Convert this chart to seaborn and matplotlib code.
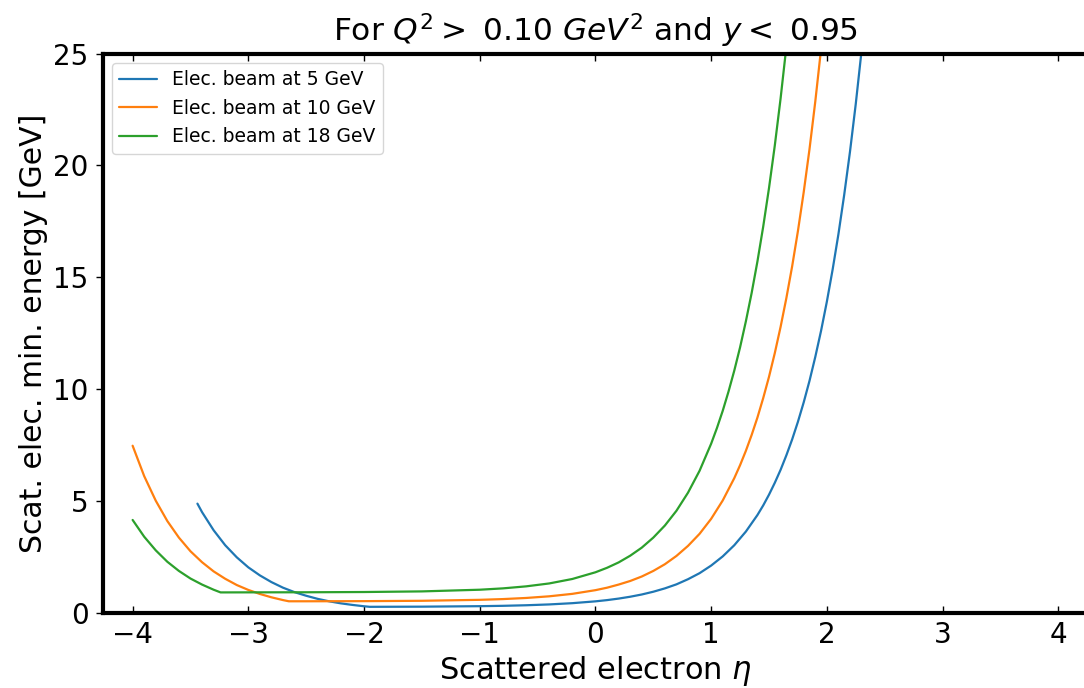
import matplotlib
matplotlib.use("Agg")
import matplotlib.pyplot as plt
import pandas as pd
import seaborn as sns

# Minimum scattered-electron energy vs. pseudorapidity for three beam energies
beam_energies = [5, 10, 18]
series_labels = ["Elec. beam at 5 GeV", "Elec. beam at 10 GeV", "Elec. beam at 18 GeV"]

eta_5 = [-3.44, -3.4, -3.3, -3.2, -3.1, -3.0, -2.9, -2.8, -2.7, -2.6, -2.5, -2.4,
         -2.3, -2.2, -2.1, -2.0, -1.95, -1.9, -1.5, -1.0, -0.8, -0.6, -0.4, -0.2,
         0.0, 0.1, 0.2, 0.3, 0.4, 0.5, 0.6, 0.7, 0.8, 0.9, 1.0, 1.1, 1.2, 1.3,
         1.4, 1.45, 1.5, 1.55, 1.6, 1.65, 1.7, 1.75, 1.8, 1.85, 1.9, 1.95, 2.0,
         2.05, 2.1, 2.15, 2.2, 2.25, 2.3, 2.35]
emin_5 = [4.87, 4.49, 3.68, 3.01, 2.47, 2.02, 1.66, 1.36, 1.11, 0.91, 0.75, 0.61,
          0.50, 0.41, 0.34, 0.28, 0.255, 0.256, 0.262, 0.284, 0.30, 0.325, 0.362, 0.418,
          0.50, 0.555, 0.623, 0.706, 0.806, 0.93, 1.08, 1.26, 1.49, 1.76, 2.10, 2.51, 3.01, 3.62,
          4.36, 4.79, 5.27, 5.80, 6.38, 7.03, 7.74, 8.53, 9.40, 10.36, 11.43, 12.60, 13.90,
          15.34, 16.92, 18.68, 20.61, 22.75, 25.12, 27.74]

eta_10 = [-4.0, -3.9, -3.8, -3.7, -3.6, -3.5, -3.4, -3.3, -3.2, -3.1, -3.0, -2.9,
          -2.8, -2.7, -2.65, -2.6, -2.5, -2.0, -1.5, -1.0, -0.8, -0.6, -0.4, -0.2,
          0.0, 0.1, 0.2, 0.3, 0.4, 0.5, 0.6, 0.7, 0.8, 0.9, 1.0, 1.1, 1.2, 1.25,
          1.3, 1.35, 1.4, 1.45, 1.5, 1.55, 1.6, 1.65, 1.7, 1.75, 1.8, 1.85, 1.9,
          1.95, 2.0]
emin_10 = [7.46, 6.10, 5.00, 4.09, 3.35, 2.74, 2.25, 1.84, 1.51, 1.23, 1.01, 0.83,
           0.68, 0.556, 0.503, 0.503, 0.503, 0.509, 0.525, 0.568, 0.601, 0.651, 0.725, 0.835,
           1.00, 1.11, 1.25, 1.41, 1.61, 1.86, 2.16, 2.53, 2.98, 3.52, 4.19, 5.01, 6.01, 6.59,
           7.23, 7.94, 8.72, 9.59, 10.54, 11.60, 12.77, 14.06, 15.48, 17.06, 18.80, 20.72, 22.85,
           25.20, 27.80]

eta_18 = [-4.0, -3.9, -3.8, -3.7, -3.6, -3.5, -3.4, -3.3, -3.24, -3.2, -3.0, -2.5,
          -2.0, -1.5, -1.0, -0.8, -0.6, -0.4, -0.2, 0.0, 0.1, 0.2, 0.3, 0.4,
          0.5, 0.6, 0.7, 0.8, 0.9, 1.0, 1.05, 1.1, 1.15, 1.2, 1.25, 1.3, 1.35,
          1.4, 1.45, 1.5, 1.55, 1.6, 1.65, 1.7]
emin_18 = [4.14, 3.39, 2.78, 2.27, 1.86, 1.52, 1.25, 1.02, 0.90, 0.90, 0.902, 0.906,
           0.917, 0.945, 1.02, 1.08, 1.17, 1.30, 1.50, 1.80, 2.00, 2.24, 2.54, 2.90,
           3.35, 3.89, 4.55, 5.36, 6.34, 7.55, 8.25, 9.02, 9.88, 10.82, 11.86, 13.02, 14.29,
           15.70, 17.26, 18.98, 20.88, 22.98, 25.30, 27.87]

x_ticks = [-4, -3, -2, -1, 0, 1, 2, 3, 4]
y_ticks = [0, 5, 10, 15, 20, 25]

palette = ["#1f77b4", "#ff7f0e", "#2ca02c"]

frames = []
for label, eta, emin in zip(series_labels,
                            [eta_5, eta_10, eta_18],
                            [emin_5, emin_10, emin_18]):
    frames.append(pd.DataFrame({"eta": eta, "emin": emin, "beam": label}))
data = pd.concat(frames, ignore_index=True)

sns.set_style("white")
plt.rcParams["font.family"] = ["DejaVu Sans"]
plt.rcParams["text.color"] = "black"
plt.rcParams["axes.labelcolor"] = "black"
plt.rcParams["xtick.color"] = "black"
plt.rcParams["ytick.color"] = "black"

fig = plt.figure(figsize=(10.84, 6.88), dpi=100)
ax = fig.add_axes([0.0946, 0.1097, 0.9094, 0.8125])

for label, color in zip(series_labels, palette):
    sub = data[data["beam"] == label]
    sns.lineplot(data=sub, x="eta", y="emin", ax=ax, color=color, label=label,
                 linewidth=1.6, sort=False, estimator=None)

ax.set_xlim(-4.26, 4.26)
ax.set_ylim(0, 25)
ax.set_xticks(x_ticks)
ax.set_yticks(y_ticks)

for side in ["left", "bottom", "top"]:
    ax.spines[side].set_visible(True)
    ax.spines[side].set_color("black")
    ax.spines[side].set_linewidth(3.0)
ax.spines["right"].set_visible(False)

ax.tick_params(axis="x", direction="in", top=True, bottom=True, length=5,
               width=1.0, labelsize=20, colors="black", pad=6)
ax.tick_params(axis="y", direction="out", left=True, right=False, length=5,
               width=1.0, labelsize=20, colors="black", pad=5)

ax.set_xlabel(r"Scattered electron $\eta$", fontsize=22, color="black")
ax.set_ylabel("Scat. elec. min. energy [GeV]", fontsize=21.5, color="black")
ax.set_title(f"For $Q^2 >$ {0.10:.2f} $GeV^2$ and $y <$ {0.95:.2f}",
             fontsize=22.5, pad=9, color="black")

ax.legend(loc="upper left", fontsize=13.5, frameon=True, labelcolor="black")

fig.savefig("out.png", dpi=100)
